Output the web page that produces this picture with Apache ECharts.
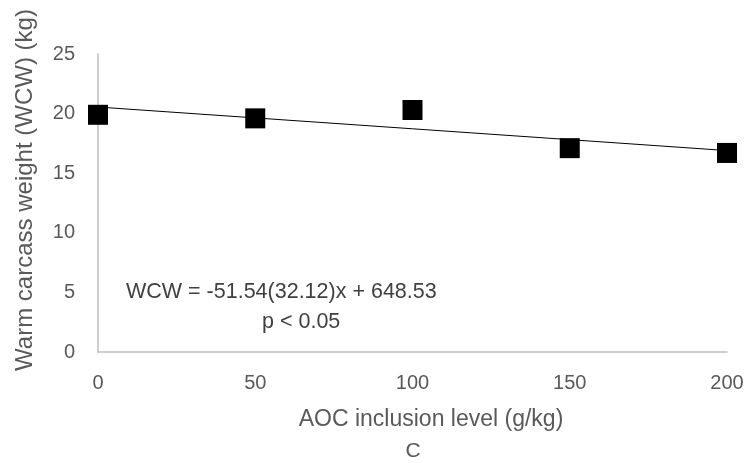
<!DOCTYPE html>
<html><head><meta charset="utf-8">
<script src="https://cdn.jsdelivr.net/npm/echarts@6/dist/echarts.min.js"></script>
<style>html,body{margin:0;padding:0;background:#fff}#c{width:748px;height:463px}</style>
</head><body><div id="c"></div>
<script>
const xValues = [0, 50, 100, 150, 200];
const wcwValues = [19.9, 19.6, 20.3, 17.1, 16.7];
const trendX = [0, 200];
const trendY = [20.55, 16.9];
const yTicks = [0, 5, 10, 15, 20, 25];
const xTicks = [0, 50, 100, 150, 200];

const chart = echarts.init(document.getElementById('c'));
const font = 'Liberation Sans, Arial, sans-serif';
chart.setOption({
  animation: false,
  grid: {left: 98, right: 21, top: 54, bottom: 111},
  xAxis: {
    type: 'value', min: 0, max: 200, interval: 50,
    axisLine: {show: true, onZero: false, lineStyle: {color: '#bfbfbf', width: 1.5}},
    axisTick: {show: false},
    splitLine: {show: false},
    axisLabel: {color: '#595959', fontSize: 20, fontFamily: font, margin: 21}
  },
  yAxis: {
    type: 'value', min: 0, max: 25, interval: 5,
    axisLine: {show: true, lineStyle: {color: '#bfbfbf', width: 1.5}},
    axisTick: {show: false},
    splitLine: {show: false},
    axisLabel: {color: '#595959', fontSize: 20, fontFamily: font, margin: 23}
  },
  graphic: [
    {type: 'text', x: 431, y: 420, style: {text: 'AOC inclusion level (g/kg)', fill: '#595959', font: '23px ' + font, align: 'center', verticalAlign: 'middle'}},
    {type: 'text', x: 413, y: 451, style: {text: 'C', fill: '#595959', font: '21px ' + font, align: 'center', verticalAlign: 'middle'}},
    {type: 'text', x: 25, y: 190, rotation: Math.PI / 2, style: {text: 'Warm carcass weight (WCW) (kg)', fill: '#595959', font: '24px ' + font, align: 'center', verticalAlign: 'middle'}},
    {type: 'text', x: 126, y: 292, style: {text: 'WCW = -51.54(32.12)x + 648.53', fill: '#404040', font: '21.5px ' + font, verticalAlign: 'middle'}},
    {type: 'text', x: 262, y: 322, style: {text: 'p < 0.05', fill: '#404040', font: '21.5px ' + font, verticalAlign: 'middle'}}
  ],
  series: [
    {
      type: 'line', data: trendX.map((x, i) => [x, trendY[i]]),
      showSymbol: false, symbol: 'none',
      lineStyle: {color: '#000', width: 1}, z: 2
    },
    {
      type: 'scatter', data: xValues.map((x, i) => [x, wcwValues[i]]),
      symbol: 'rect', symbolSize: 20,
      itemStyle: {color: '#000', opacity: 1}, z: 3
    }
  ]
});
</script></body></html>
